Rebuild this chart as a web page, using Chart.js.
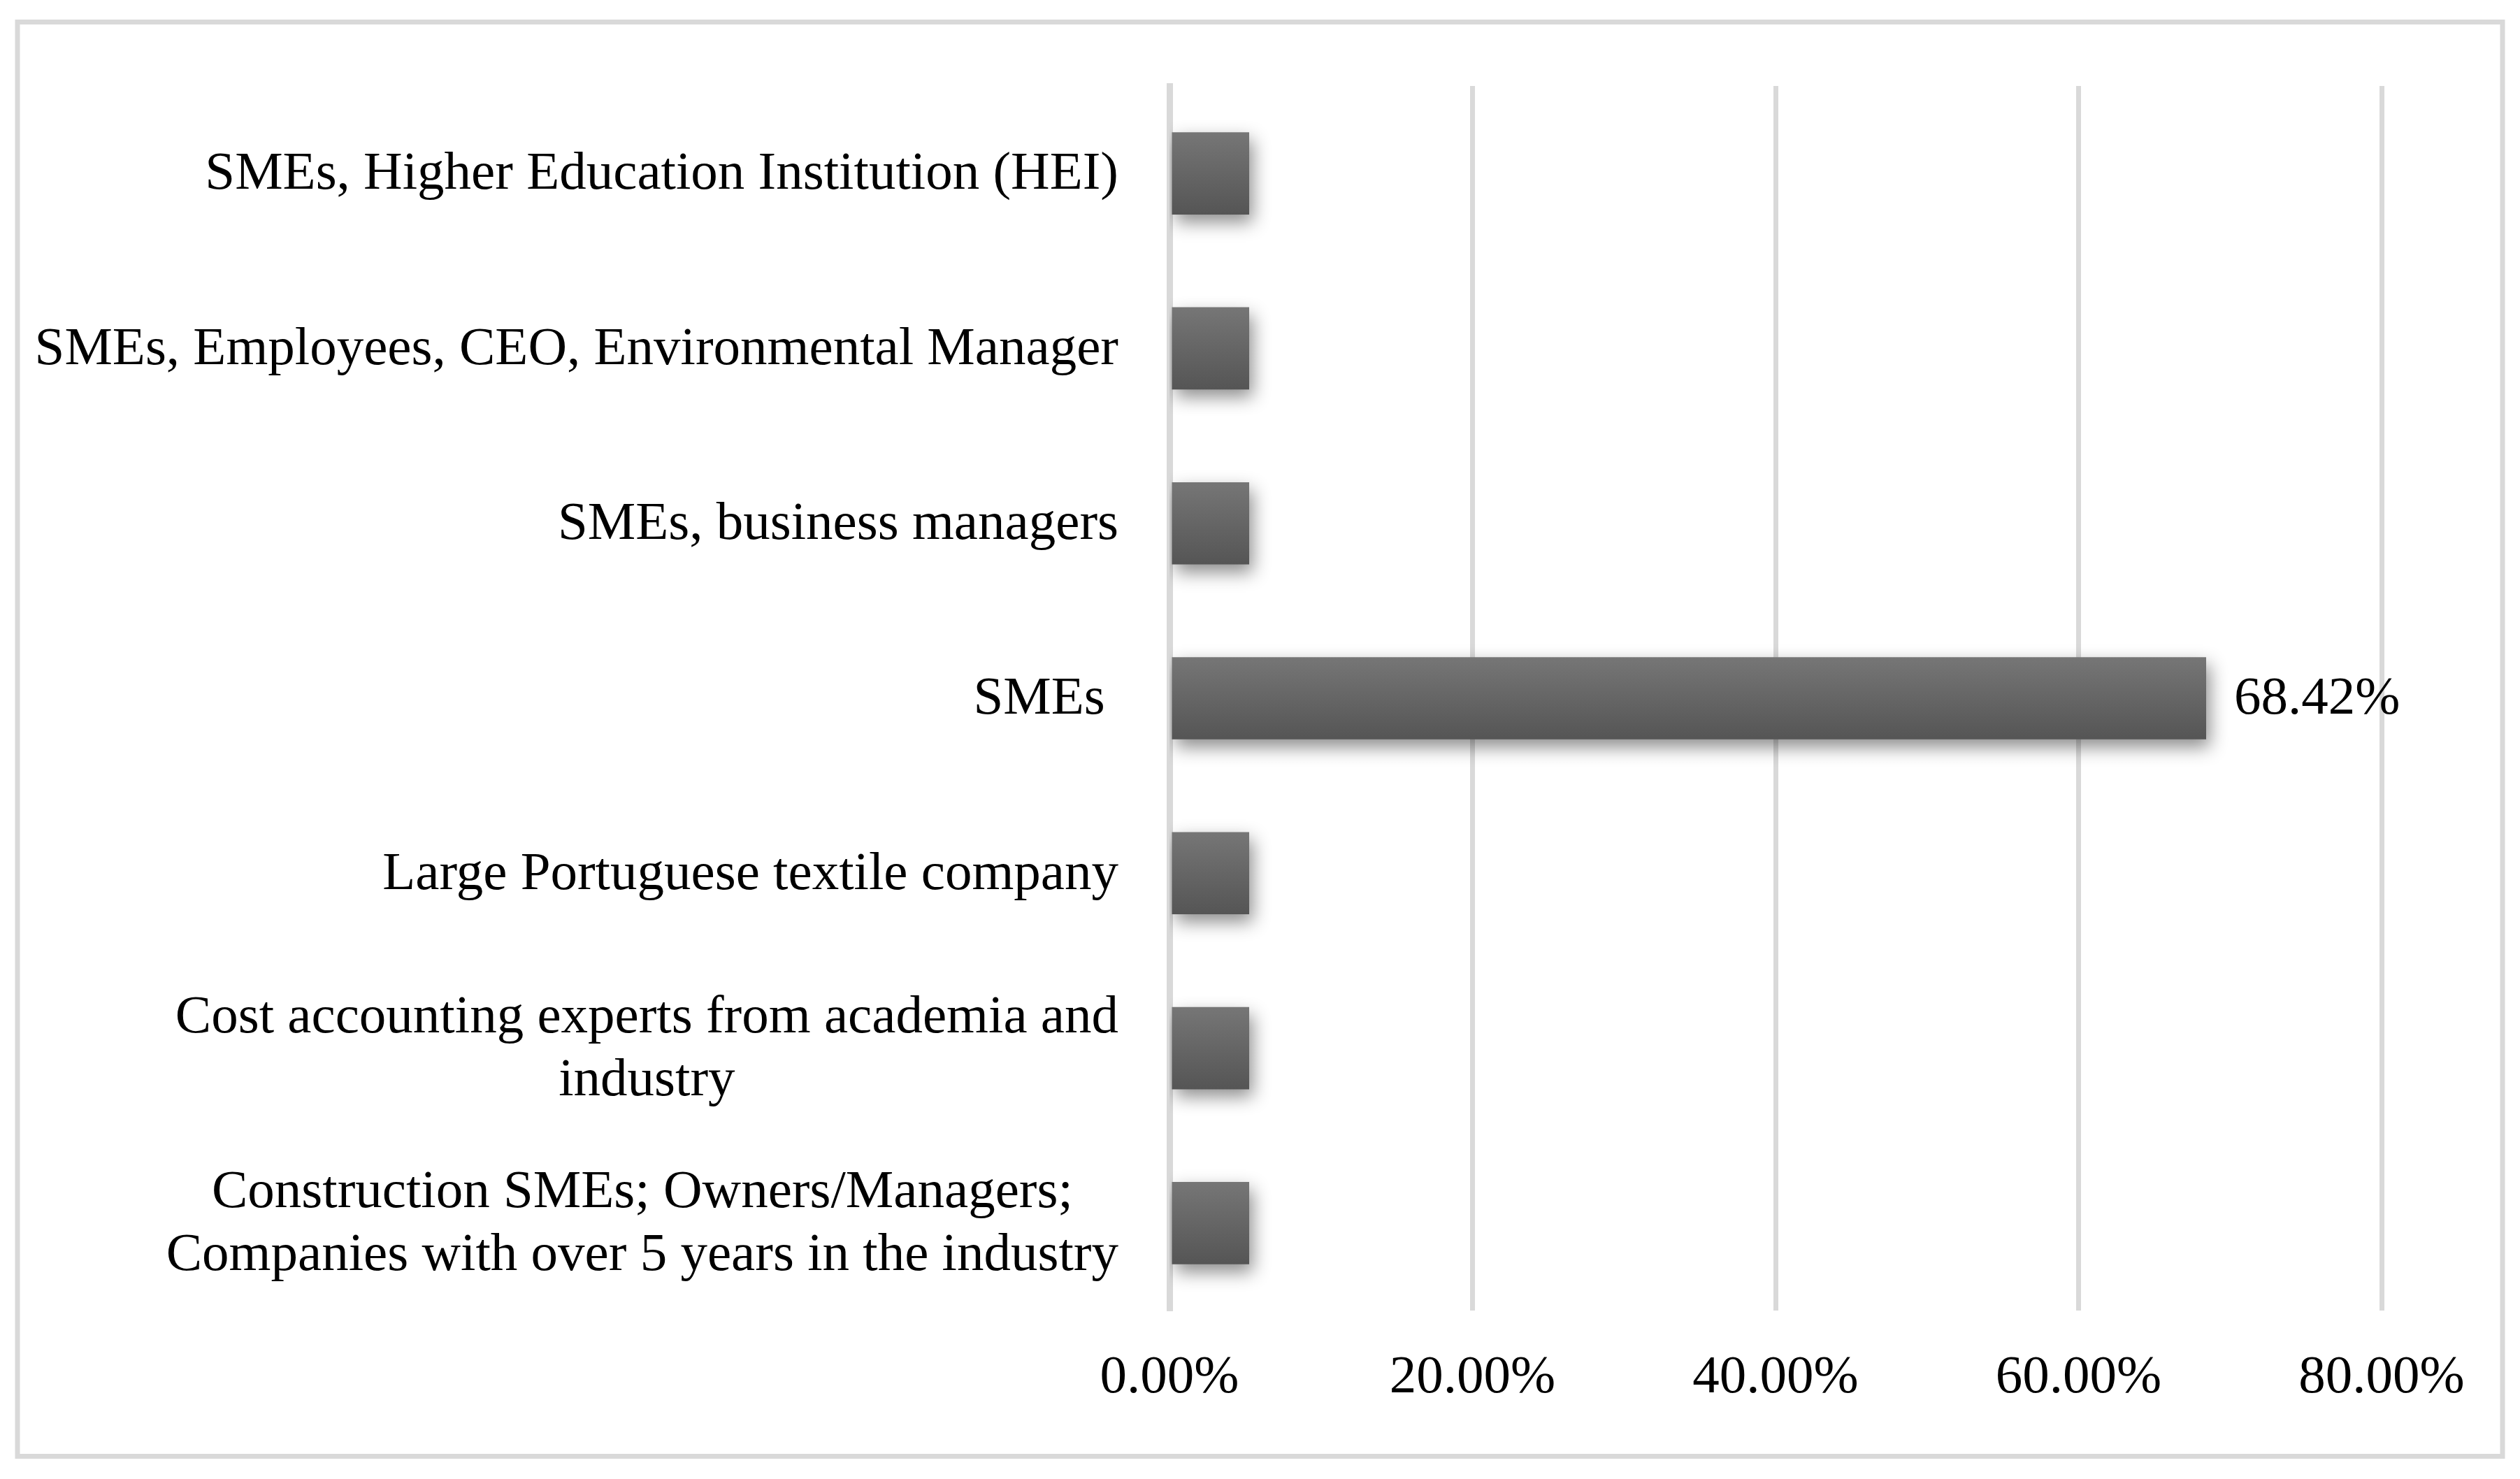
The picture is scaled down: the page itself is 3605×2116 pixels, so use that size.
<!DOCTYPE html>
<html>
<head>
<meta charset="utf-8">
<script src="https://cdn.jsdelivr.net/npm/chart.js@4"></script>
<style>
    html, body { margin: 0; padding: 0; background: #ffffff; }
    canvas { display: block; }
</style>
</head>
<body>
<canvas id="stakeholderChart" width="3605" height="2116"></canvas>
<script>
// data, top to bottom as in the picture
const categories = [
    'SMEs, Higher Education Institution (HEI)',
    'SMEs, Employees, CEO, Environmental Manager',
    'SMEs, business managers',
    'SMEs ',
    'Large Portuguese textile company',
    ['Cost accounting experts from academia and', 'industry'],
    ['Construction SMEs; Owners/Managers;', 'Companies with over 5 years in the industry']
];
const shares = [5.26, 5.26, 5.26, 68.42, 5.26, 5.26, 5.26];
const shownLabels = ['', '', '', '68.42%', '', '', ''];
const xTicks = [0, 20, 40, 60, 80];

const fontFamily = '"Liberation Serif", "Times New Roman", serif';
const fontSize = 77;
const gridColor = '#d9d9d9';
const barTop = '#767676';
const barBottom = '#555555';
const barFraction = 0.47;

// frame round the whole picture + white background
const framePlugin = {
    id: 'frame',
    beforeDraw(chart) {
        const ctx = chart.ctx;
        ctx.save();
        ctx.fillStyle = '#ffffff';
        ctx.fillRect(0, 0, chart.width, chart.height);
        ctx.strokeStyle = gridColor;
        ctx.lineWidth = 7;
        ctx.strokeRect(25, 31.5, chart.width - 50, chart.height - 64);
        ctx.restore();
    }
};

// drop shadow under the bars
const shadowPlugin = {
    id: 'barShadow',
    beforeDatasetsDraw(chart) {
        const ctx = chart.ctx;
        ctx.save();
        ctx.shadowColor = 'rgba(0, 0, 0, 0.45)';
        ctx.shadowBlur = 24;
        ctx.shadowOffsetX = 5;
        ctx.shadowOffsetY = 11;
    },
    afterDatasetsDraw(chart) {
        chart.ctx.restore();
    }
};

// category labels: block right aligned, lines centred inside the block
const categoryLabelPlugin = {
    id: 'categoryLabels',
    afterDraw(chart) {
        const ctx = chart.ctx;
        const yAxis = chart.scales.y;
        const lineHeight = 90;
        ctx.save();
        ctx.font = fontSize + 'px ' + fontFamily;
        ctx.fillStyle = '#000000';
        ctx.textAlign = 'center';
        ctx.textBaseline = 'middle';
        const right = yAxis.right - 73;
        categories.forEach((label, i) => {
            const lines = Array.isArray(label) ? label : [label];
            const blockWidth = Math.max(...lines.map(l => ctx.measureText(l).width));
            const cx = right - blockWidth / 2;
            const yMid = yAxis.getPixelForTick(i);
            lines.forEach((line, j) => {
                const y = yMid + (j - (lines.length - 1) / 2) * lineHeight;
                ctx.fillText(line, cx, y + 2);
            });
        });
        ctx.restore();
    }
};

// value label at the end of the bar
const valueLabelPlugin = {
    id: 'valueLabels',
    afterDatasetsDraw(chart) {
        const ctx = chart.ctx;
        const meta = chart.getDatasetMeta(0);
        ctx.save();
        ctx.font = fontSize + 'px ' + fontFamily;
        ctx.fillStyle = '#000000';
        ctx.textAlign = 'left';
        ctx.textBaseline = 'middle';
        meta.data.forEach((bar, i) => {
            if (!shownLabels[i]) return;
            ctx.fillText(shownLabels[i], bar.x + 40, bar.y + 2);
        });
        ctx.restore();
    }
};

function barGradient(context) {
    const chart = context.chart;
    const yAxis = chart.scales.y;
    if (!yAxis || !chart.chartArea) return barBottom;
    const center = yAxis.getPixelForValue(context.dataIndex);
    const half = (yAxis.height / categories.length) * barFraction / 2;
    const g = chart.ctx.createLinearGradient(0, center - half, 0, center + half);
    g.addColorStop(0, barTop);
    g.addColorStop(1, barBottom);
    return g;
}

const ctx = document.getElementById('stakeholderChart').getContext('2d');
new Chart(ctx, {
    type: 'bar',
    data: {
        labels: categories,
        datasets: [{
            data: shares,
            backgroundColor: barGradient,
            borderWidth: 0,
            barPercentage: 1,
            categoryPercentage: barFraction
        }]
    },
    options: {
        indexAxis: 'y',
        responsive: false,
        animation: false,
        devicePixelRatio: 1,
        layout: { padding: { top: 123, right: 198, bottom: 0, left: 0 } },
        plugins: {
            legend: { display: false },
            tooltip: { enabled: false }
        },
        scales: {
            x: {
                min: 0,
                max: 80,
                afterBuildTicks(scale) {
                    scale.ticks = xTicks.map(v => ({ value: v }));
                },
                afterFit(scale) { scale.height = 241; },
                grid: { color: gridColor, lineWidth: 7, drawTicks: false },
                border: { display: false },
                ticks: {
                    padding: 51,
                    color: '#000000',
                    font: { family: fontFamily, size: fontSize },
                    maxRotation: 0,
                    callback: v => v.toFixed(2) + '%'
                }
            },
            y: {
                afterFit(scale) { scale.width = 1673; },
                grid: { display: false, drawTicks: false },
                border: { display: true, color: gridColor, width: 9 },
                ticks: { display: false }
            }
        }
    },
    plugins: [framePlugin, shadowPlugin, categoryLabelPlugin, valueLabelPlugin]
});
</script>
</body>
</html>
